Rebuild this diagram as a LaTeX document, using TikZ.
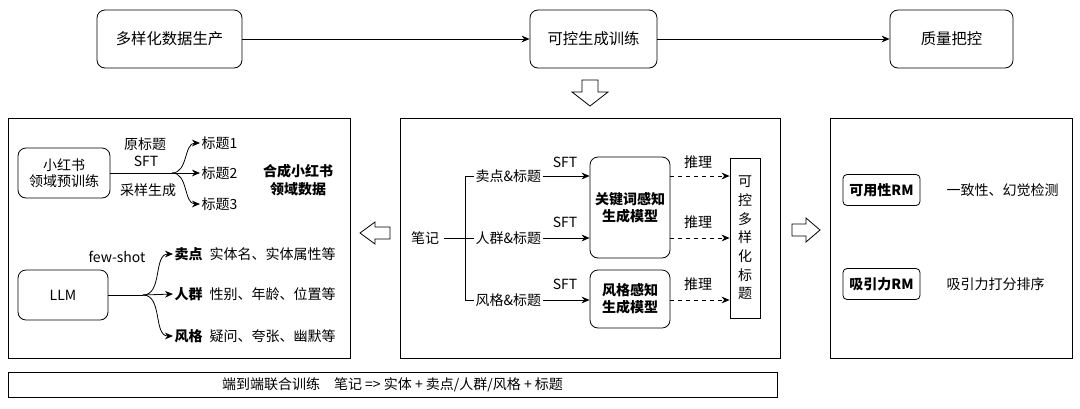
\documentclass[tikz,border=0pt]{standalone}
\usepackage{fontspec}
\setmainfont{Noto Sans CJK SC}
\usetikzlibrary{arrows.meta}
\begin{document}
\begin{tikzpicture}[x=0.75pt,y=-0.75pt,font=\fontsize{10.5}{12}\selectfont,
 rbox/.style={draw,rounded corners=6pt,line width=0.6pt,align=center,inner sep=0pt},
 panel/.style={draw,line width=0.6pt},
 arr/.style={-{Stealth[length=6pt,width=5pt]},line width=0.6pt},
 darr/.style={arr,dashed},
 hollow/.style={draw,line width=0.6pt,fill=white},
 lbl/.style={inner sep=1pt,align=center}]
\useasboundingbox (0,0) rectangle (1080,408);
% top row
\node[rbox,font=\fontsize{11.5}{13}\selectfont,minimum width=145*0.75pt,minimum height=58*0.75pt] (p1) at (169.5,39) {多样化数据生产};
\node[rbox,font=\fontsize{11.5}{13}\selectfont,minimum width=127*0.75pt,minimum height=58*0.75pt] (p2) at (593.5,39) {可控生成训练};
\node[rbox,font=\fontsize{11.5}{13}\selectfont,minimum width=123*0.75pt,minimum height=58*0.75pt] (p3) at (951.5,39) {质量把控};
\draw[arr] (p1) -- (p2);
\draw[arr] (p2) -- (p3);
\draw[hollow] (582,80) -- (598,80) -- (598,92) -- (608,92) -- (590,106) -- (572,92) -- (582,92) -- cycle;
% panels
\node[panel,minimum width=342*0.75pt,minimum height=240*0.75pt,inner sep=0pt] (L) at (179,238) {};
\node[panel,minimum width=380*0.75pt,minimum height=240*0.75pt,inner sep=0pt] (M) at (590,238) {};
\node[panel,minimum width=242*0.75pt,minimum height=240*0.75pt,inner sep=0pt] (R) at (951,238) {};
\node[panel,minimum width=769*0.75pt,minimum height=25*0.75pt,inner sep=0pt] (B) at (392.5,384.5) {端到端联合训练\quad 笔记 => 实体 + 卖点/人群/风格 + 标题};
\draw[hollow] (360,233) -- (375,222) -- (375,227) -- (390,227) -- (390,239) -- (375,239) -- (375,244) -- cycle;
\draw[hollow] (820,230) -- (806,218) -- (806,224) -- (792,224) -- (792,236) -- (806,236) -- (806,242) -- cycle;
% left panel
\node[rbox,minimum width=92*0.75pt,minimum height=50*0.75pt] (xhs) at (64,173) {小红书\\领域预训练};
\coordinate (s1) at (172,173);
\node[lbl,anchor=west] (t1) at (200,143) {标题1};
\node[lbl,anchor=west] (t2) at (200,173) {标题2};
\node[lbl,anchor=west] (t3) at (200,204) {标题3};
\draw[line width=0.6pt] (xhs) -- (s1);
\draw[arr] (s1) to[out=0,in=180] (t1);
\draw[arr] (s1) -- (t2);
\draw[arr] (s1) to[out=0,in=180] (t3);
\node[lbl] at (145,144) {原标题};
\node[lbl] at (146,161) {SFT};
\node[lbl] at (148,190) {采样生成};
\node[lbl,font=\fontsize{10.5}{13}\selectfont\bfseries] at (298,180) {合成小红书\\领域数据};
\node[rbox,minimum width=90*0.75pt,minimum height=50*0.75pt] (llm) at (63,295) {LLM};
\coordinate (s2) at (143,295);
\node[lbl,anchor=west] (k1) at (173,254) {\textbf{卖点}\enspace 实体名、实体属性等};
\node[lbl,anchor=west] (k2) at (173,294) {\textbf{人群}\enspace 性别、年龄、位置等};
\node[lbl,anchor=west] (k3) at (173,336) {\textbf{风格}\enspace 疑问、夸张、幽默等};
\draw[line width=0.6pt] (llm) -- (s2);
\draw[arr] (s2) to[out=0,in=180] (k1.west);
\draw[arr] (s2) -- (k2.west);
\draw[arr] (s2) to[out=0,in=180] (k3.west);
\node[lbl] at (117,257) {few-shot};
% middle panel
\node[lbl] (nb) at (425,238) {笔记};
\node[lbl,anchor=west] (a1) at (474,176) {卖点\&标题};
\node[lbl,anchor=west] (a2) at (474,238) {人群\&标题};
\node[lbl,anchor=west] (a3) at (474,300) {风格\&标题};
\draw[line width=0.6pt] (nb.east) ++(3,0) -- (a2.west);
\draw[line width=0.6pt] (a1.west) -- ++(-9,0) |- (a3.west);
\node[rbox,font=\fontsize{10.5}{13}\selectfont\bfseries,minimum width=80*0.75pt,minimum height=101*0.75pt] (m1) at (630,207.5) {关键词感知\\生成模型};
\node[rbox,font=\fontsize{10.5}{13}\selectfont\bfseries,minimum width=80*0.75pt,minimum height=58*0.75pt] (m2) at (630,299) {风格感知\\生成模型};
\node[draw,line width=0.6pt,minimum width=30*0.75pt,minimum height=160*0.75pt,inner sep=0pt,align=center,font=\fontsize{10.5}{14}\selectfont] (out) at (745,238) {可\\控\\多\\样\\化\\标\\题};
\draw[arr] (a1.east) -- (m1.west|-a1);
\draw[arr] (a2.east) -- (m1.west|-a2);
\draw[arr] (a3.east) -- (m2.west|-a3);
\draw[darr] (m1.east|-a1) -- (out.west|-a1);
\draw[darr] (m1.east|-a2) -- (out.west|-a2);
\draw[darr] (m2.east|-a3) -- (out.west|-a3);
\foreach \y in {162,222,284}{\node[lbl] at (565,\y) {SFT}; \node[lbl] at (698,\y) {推理};}
% right panel
\node[rbox,font=\fontsize{10.5}{12}\selectfont\bfseries,rounded corners=3pt,minimum width=77*0.75pt,minimum height=31*0.75pt] (u) at (881.5,190) {可用性RM};
\node[lbl,anchor=west] at (945,190) {一致性、幻觉检测};
\node[rbox,font=\fontsize{10.5}{12}\selectfont\bfseries,rounded corners=3pt,minimum width=77*0.75pt,minimum height=31*0.75pt] (v) at (881.5,284) {吸引力RM};
\node[lbl,anchor=west] at (945,284) {吸引力打分排序};
\end{tikzpicture}
\end{document}
